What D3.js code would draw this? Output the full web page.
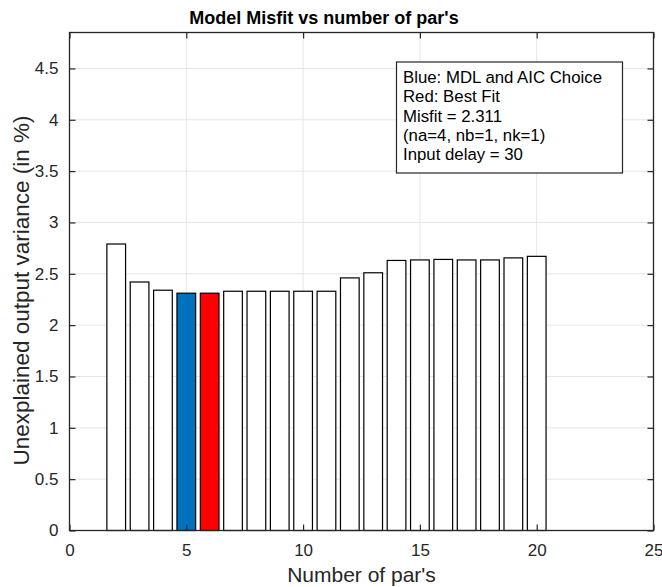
<!DOCTYPE html>
<html>
<head>
<meta charset="utf-8">
<script src="https://cdn.jsdelivr.net/npm/d3@7"></script>
<style>
  body { margin: 0; background: #fff; }
  text { font-family: "Liberation Sans", Arial, Helvetica, sans-serif; fill: #262626; }
</style>
</head>
<body>
<svg width="662" height="587"></svg>
<script>
let width = 662;
let height = 587;

// data
let nPars = [2, 3, 4, 5, 6, 7, 8, 9, 10, 11, 12, 13, 14, 15, 16, 17, 18, 19, 20];
let misfit = [2.79, 2.42, 2.34, 2.311, 2.311, 2.33, 2.33, 2.33, 2.33, 2.33, 2.46, 2.51, 2.63, 2.635, 2.64, 2.635, 2.635, 2.655, 2.67];
let blueChoice = 5;
let redChoice = 6;
let xTicks = [0, 5, 10, 15, 20, 25];
let yTicks = [0, 0.5, 1, 1.5, 2, 2.5, 3, 3.5, 4, 4.5];
let infoLines = ["Blue: MDL and AIC Choice", "Red: Best Fit", "Misfit = 2.311", "(na=4, nb=1, nk=1)", "Input delay = 30"];

let m = {left: 69.5, right: 653.5, top: 32.5, bottom: 530.5};
let x = d3.scaleLinear().domain([0, 25]).range([m.left, m.right]);
let y = d3.scaleLinear().domain([0, 4.85]).range([m.bottom, m.top]);

let svg = d3.select("svg");

// grid
let grid = svg.append("g").attr("stroke", "#e6e6e6").attr("stroke-width", 1);
grid.selectAll(".gx").data(xTicks.slice(1, -1)).enter().append("line")
  .attr("x1", d => x(d)).attr("x2", d => x(d)).attr("y1", m.top).attr("y2", m.bottom);
grid.selectAll(".gy").data(yTicks.slice(1)).enter().append("line")
  .attr("x1", m.left).attr("x2", m.right).attr("y1", d => y(d)).attr("y2", d => y(d));

// bars
let bw = 0.8;
svg.append("g").selectAll("rect").data(nPars).enter().append("rect")
  .attr("x", d => x(d - bw / 2))
  .attr("width", d => x(bw) - x(0))
  .attr("y", (d, i) => y(misfit[i]))
  .attr("height", (d, i) => y(0) - y(misfit[i]))
  .attr("fill", d => d == blueChoice ? "#0072bd" : d == redChoice ? "#ff0000" : "#fff")
  .attr("stroke", "#000")
  .attr("stroke-width", 1.2);

// box
svg.append("rect")
  .attr("x", m.left).attr("y", m.top)
  .attr("width", m.right - m.left).attr("height", m.bottom - m.top)
  .attr("fill", "none").attr("stroke", "#262626").attr("stroke-width", 1.3);

// axes (ticks inside, mirrored)
let tl = 6;
let bottomAxis = d3.axisBottom(x).tickValues(xTicks).tickSizeInner(-tl).tickSizeOuter(0).tickPadding(13).tickFormat(d3.format("d"));
let topAxis = d3.axisTop(x).tickValues(xTicks).tickSizeInner(-tl).tickSizeOuter(0).tickFormat("");
let leftAxis = d3.axisLeft(y).tickValues(yTicks).tickSizeInner(-tl).tickSizeOuter(0).tickPadding(11).tickFormat(d => d);
let rightAxis = d3.axisRight(y).tickValues(yTicks).tickSizeInner(-tl).tickSizeOuter(0).tickFormat("");

function styleAxis(g) {
  g.select(".domain").remove();
  g.selectAll(".tick line").attr("stroke", "#262626").attr("stroke-width", 1.2);
  g.selectAll(".tick text").style("font-size", "17px").attr("fill", "#262626")
    .style("font-family", "'Liberation Sans', Arial, sans-serif");
}
svg.append("g").attr("transform", `translate(0,${m.bottom})`).call(bottomAxis).call(styleAxis);
svg.append("g").attr("transform", `translate(0,${m.top})`).call(topAxis).call(styleAxis);
svg.append("g").attr("transform", `translate(${m.left},0)`).call(leftAxis).call(styleAxis);
svg.append("g").attr("transform", `translate(${m.right},0)`).call(rightAxis).call(styleAxis);

// labels
svg.append("text")
  .attr("x", (m.left + m.right) / 2).attr("y", 582)
  .attr("text-anchor", "middle").style("font-size", "21px")
  .text("Number of par's");
svg.append("text")
  .attr("transform", `translate(29,${(m.top + m.bottom) / 2 + 9}) rotate(-90)`)
  .attr("text-anchor", "middle").style("font-size", "22.5px")
  .text("Unexplained output variance (in %)");
svg.append("text")
  .attr("x", 324).attr("y", 24)
  .attr("text-anchor", "middle").style("font-size", "18px").style("font-weight", "bold")
  .style("fill", "#000")
  .text("Model Misfit vs number of par's");

// info box
let info = svg.append("g");
info.append("rect")
  .attr("x", 396.5).attr("y", 62).attr("width", 226).attr("height", 111)
  .attr("fill", "#fff").attr("stroke", "#262626").attr("stroke-width", 1.2);
info.selectAll("text").data(infoLines).enter().append("text")
  .attr("x", 403).attr("y", (d, i) => 83 + i * 19.3)
  .style("font-size", "16.8px").style("fill", "#000")
  .text(d => d);
</script>
</body>
</html>
